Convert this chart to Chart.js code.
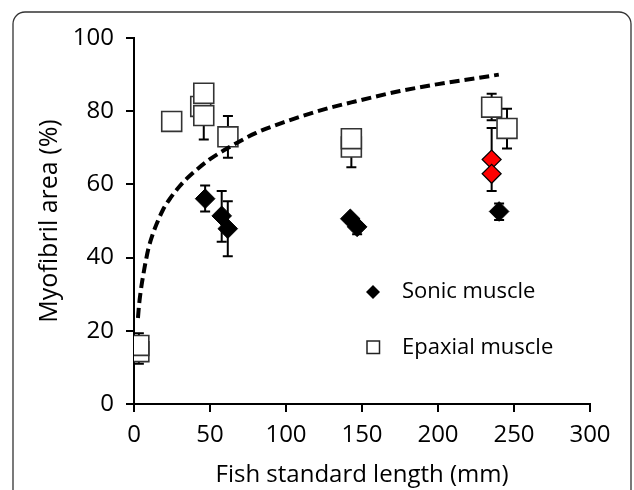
<!DOCTYPE html>
<html>
<head>
<meta charset="utf-8">
<script src="https://cdn.jsdelivr.net/npm/chart.js@4.4.1/dist/chart.umd.min.js"></script>
<style>
  html, body { margin: 0; padding: 0; background: #fff; }
  #wrap { width: 634px; height: 490px; }
</style>
</head>
<body>
<div id="wrap"><canvas id="chart" width="634" height="490"></canvas></div>
<script>
// Sonic muscle (black diamonds): means and error bar ends
const sonicX = [46.8, 57.7, 61.7, 142.3, 146.8, 240.2];
const sonicY = [56.1, 51.4, 47.9, 50.6, 48.4, 52.6];
const sonicHi = [59.7, 58.2, 55.4, 51.5, 49.5, 54.8];
const sonicLo = [52.6, 44.3, 40.4, 49.5, 46.4, 50.3];

// Sonic muscle, red group
const redX = [235.3, 235.3];
const redY = [66.8, 62.9];
const redHi = [75.4, 62.9];
const redLo = [58.2, 62.9];

// Epaxial muscle (open squares), in drawing order
const epaxX = [3.2, 3.2, 24.8, 43.9, 45.9, 45.9, 61.8, 143, 143, 235.3, 245.4];
const epaxY = [14.3, 16.0, 77.2, 81.3, 84.9, 78.8, 73.0, 70.2, 72.5, 81.1, 75.3];
const epaxHi = [14.3, 19.3, 77.2, 81.3, 84.9, 78.8, 78.7, 70.2, 72.5, 84.8, 80.7];
const epaxLo = [11.0, 16.0, 77.2, 81.3, 84.9, 72.3, 67.3, 64.7, 72.5, 77.5, 69.8];

// dashed trend curve
const curveX = [2.6, 3.2, 4, 5, 6, 7.5, 9.5, 12, 15, 19, 24, 30, 35, 42, 50, 62, 80, 100, 125, 143, 175, 200, 225, 240];
const curveY = [23.5, 26.5, 29.5, 32.5, 35, 38.5, 42.5, 46, 49.3, 53, 56.3, 59.5, 61.7, 64.3, 66.9, 70, 74, 77.2, 80.5, 82.4, 85.5, 87.4, 89, 90];

const xTicks = [0, 50, 100, 150, 200, 250, 300];
const yTicks = [0, 20, 40, 60, 80, 100];

const FONT = "'Open Sans', 'DejaVu Sans', sans-serif";

function pts(xs, ys) {
    return xs.map((x, i) => ({ x: x, y: ys[i] }));
}

// white page with the rounded frame
const framePlugin = {
    id: 'frame',
    beforeDraw(chart) {
        const ctx = chart.ctx;
        ctx.save();
        ctx.fillStyle = '#fff';
        ctx.fillRect(0, 0, chart.width, chart.height);
        ctx.strokeStyle = '#333';
        ctx.lineWidth = 1.3;
        ctx.beginPath();
        ctx.roundRect(13, 12, 618, 520, 12);
        ctx.stroke();
        ctx.restore();
    }
};

// vertical error bars with caps, under the markers
const errorBarPlugin = {
    id: 'errorBars',
    beforeDatasetsDraw(chart) {
        const ctx = chart.ctx;
        const xs = chart.scales.x, ys = chart.scales.y;
        ctx.save();
        ctx.strokeStyle = '#000';
        ctx.lineWidth = 2;
        chart.data.datasets.forEach(ds => {
            if (!ds.errHi) return;
            ds.data.forEach((p, i) => {
                const px = xs.getPixelForValue(p.x);
                const py = ys.getPixelForValue(p.y);
                [ds.errHi[i], ds.errLo[i]].forEach(v => {
                    if (v === p.y) return;
                    const ey = ys.getPixelForValue(v);
                    ctx.beginPath();
                    ctx.moveTo(px, py);
                    ctx.lineTo(px, ey);
                    ctx.moveTo(px - 5, ey);
                    ctx.lineTo(px + 5, ey);
                    ctx.stroke();
                });
            });
        });
        ctx.restore();
    }
};

// legend inside the plot
const legendPlugin = {
    id: 'insideLegend',
    afterDraw(chart) {
        const ctx = chart.ctx;
        ctx.save();
        ctx.fillStyle = '#000';
        ctx.beginPath();
        ctx.moveTo(373, 285);
        ctx.lineTo(380, 292);
        ctx.lineTo(373, 299);
        ctx.lineTo(366, 292);
        ctx.closePath();
        ctx.fill();
        ctx.strokeStyle = '#222';
        ctx.lineWidth = 1.5;
        ctx.strokeRect(367, 341, 12.5, 12.5);
        ctx.font = '22px ' + FONT;
        ctx.textBaseline = 'middle';
        ctx.fillText('Sonic muscle', 402, 292);
        ctx.fillText('Epaxial muscle', 402, 348);
        ctx.restore();
    }
};

function axisOpts(ticks, min, max) {
    return {
        type: 'linear',
        min: min,
        max: max,
        afterBuildTicks: s => { s.ticks = ticks.map(v => ({ value: v })); },
        border: { display: true, color: '#000', width: 2 },
        grid: { display: true, drawOnChartArea: false, drawTicks: true, tickLength: 8, color: '#000', lineWidth: 2 },
        ticks: { color: '#000', font: { family: FONT, size: 24 } }
    };
}

const xAxis = axisOpts(xTicks, 0, 300);
xAxis.ticks.padding = 9;
xAxis.title = { display: true, text: 'Fish standard length (mm)', color: '#000', font: { family: FONT, size: 24 }, padding: { top: 3, bottom: 0 } };
xAxis.afterFit = s => { s.height = 86; };

const yAxis = axisOpts(yTicks, 0, 100);
yAxis.ticks.padding = 12;
yAxis.title = { display: true, text: 'Myofibril area (%)', color: '#000', font: { family: FONT, size: 25 }, padding: { top: 35, bottom: 0 } };
yAxis.afterFit = s => { s.width = 134; };

new Chart(document.getElementById('chart'), {
    type: 'scatter',
    data: {
        datasets: [
            {
                type: 'line',
                label: 'Trend',
                data: pts(curveX, curveY),
                borderColor: '#000',
                borderWidth: 4,
                borderDash: [10, 5],
                pointRadius: 0,
                cubicInterpolationMode: 'monotone',
                fill: false,
                order: 0
            },
            {
                label: 'Sonic muscle',
                data: pts(sonicX, sonicY),
                errHi: sonicHi,
                errLo: sonicLo,
                pointStyle: 'rectRot',
                pointRadius: 9.8,
                backgroundColor: '#000',
                borderColor: '#000',
                borderWidth: 1,
                order: 2
            },
            {
                label: 'Sonic muscle (red)',
                data: pts(redX, redY),
                errHi: redHi,
                errLo: redLo,
                pointStyle: 'rectRot',
                pointRadius: 9.5,
                backgroundColor: '#ff0000',
                borderColor: '#000',
                borderWidth: 1.2,
                order: 1
            },
            {
                label: 'Epaxial muscle',
                data: pts(epaxX, epaxY),
                errHi: epaxHi,
                errLo: epaxLo,
                pointStyle: 'rect',
                pointRadius: 14.1,
                backgroundColor: '#fff',
                borderColor: '#333',
                borderWidth: 1.6,
                order: 3
            }
        ]
    },
    options: {
        responsive: false,
        animation: false,
        devicePixelRatio: 1,
        layout: { padding: { top: 38, right: 44, left: 0, bottom: 0 } },
        plugins: {
            legend: { display: false },
            tooltip: { enabled: false }
        },
        scales: { x: xAxis, y: yAxis }
    },
    plugins: [framePlugin, errorBarPlugin, legendPlugin]
});
</script>
</body>
</html>
